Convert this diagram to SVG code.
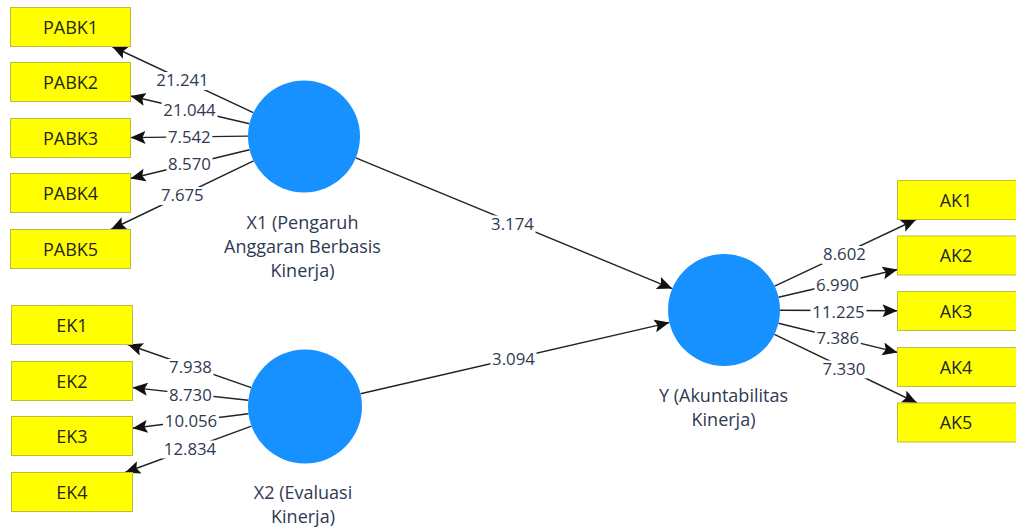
<svg xmlns="http://www.w3.org/2000/svg" width="1016" height="530" viewBox="0 0 1016 530">
<style>
.box{fill:#ffff00;stroke:#bdbd3a;stroke-width:1}
.bt{font-family:"Open Sans","DejaVu Sans",sans-serif;font-size:18px;fill:#262626;text-anchor:middle}
.lv{fill:#1791ff}
.lt{font-family:"Open Sans","DejaVu Sans",sans-serif;font-size:18px;fill:#2e3a52;text-anchor:middle}
.c line{stroke:#222;stroke-width:1.4;marker-end:url(#ah)}
.bg{fill:#fff}
.el{font-family:"Open Sans","DejaVu Sans",sans-serif;font-size:16.8px;fill:#2e3a52;text-anchor:middle}
</style>
<defs>
<marker id="ah" markerUnits="userSpaceOnUse" markerWidth="16" markerHeight="14" refX="15" refY="6.5" orient="auto">
<path d="M0,0 L15,6.5 L0,13 L3,6.5 z" fill="#111"/>
</marker>
</defs>
<rect width="1016" height="530" fill="#fff"/>

<g class="c" id="connectors">
<line x1="253.3" y1="112.7" x2="112.1" y2="46.5"/>
<line x1="249.5" y1="123.8" x2="130.5" y2="96.0"/>
<line x1="248" y1="136.1" x2="130.5" y2="137.6"/>
<line x1="249.6" y1="149.7" x2="130.5" y2="178.5"/>
<line x1="253.6" y1="160.8" x2="110.9" y2="229.5"/>
<line x1="251.2" y1="387.7" x2="127.7" y2="344.5"/>
<line x1="248.3" y1="400.3" x2="132.5" y2="387.6"/>
<line x1="248.5" y1="413.7" x2="132.5" y2="428.3"/>
<line x1="251.5" y1="426.1" x2="125.1" y2="472.5"/>
<line x1="774.7" y1="286.1" x2="916.1" y2="219.5"/>
<line x1="778.5" y1="297.3" x2="897.5" y2="269.5"/>
<line x1="780" y1="310.2" x2="897.5" y2="310.7"/>
<line x1="778.4" y1="323.3" x2="897.5" y2="352.4"/>
<line x1="774.4" y1="334.3" x2="917.1" y2="403"/>
<line x1="355.8" y1="157.9" x2="672.2" y2="288.6"/>
<line x1="360.5" y1="393.7" x2="669.4" y2="322.6"/>
</g>

<g id="edge-labels">
<rect class="bg" x="154.5" y="72" width="56" height="18"/><text class="el" x="182.5" y="86">21.241</text>
<rect class="bg" x="161.5" y="102" width="56" height="18"/><text class="el" x="189.5" y="116">21.044</text>
<rect class="bg" x="166.3" y="129" width="46" height="18"/><text class="el" x="189.3" y="143">7.542</text>
<rect class="bg" x="166.5" y="155.5" width="46" height="18"/><text class="el" x="189.5" y="169.5">8.570</text>
<rect class="bg" x="159.3" y="187" width="46" height="18"/><text class="el" x="182.3" y="201">7.675</text>
<rect class="bg" x="167.5" y="359" width="46" height="18"/><text class="el" x="190.5" y="373">7.938</text>
<rect class="bg" x="167.4" y="386.5" width="46" height="18"/><text class="el" x="190.4" y="400.5">8.730</text>
<rect class="bg" x="163" y="413" width="56" height="18"/><text class="el" x="191" y="427">10.056</text>
<rect class="bg" x="162" y="440.5" width="56" height="18"/><text class="el" x="190" y="454.5">12.834</text>
<rect class="bg" x="821.5" y="246" width="46" height="18"/><text class="el" x="844.5" y="260">8.602</text>
<rect class="bg" x="814.5" y="277" width="46" height="18"/><text class="el" x="837.5" y="291">6.990</text>
<rect class="bg" x="810.5" y="303.5" width="56" height="18"/><text class="el" x="838.5" y="317.5">11.225</text>
<rect class="bg" x="814.8" y="330" width="46" height="18"/><text class="el" x="837.8" y="344">7.386</text>
<rect class="bg" x="821" y="360.5" width="46" height="18"/><text class="el" x="844" y="374.5">7.330</text>
<rect class="bg" x="489.5" y="215.5" width="46" height="18"/><text class="el" x="512.5" y="229.5">3.174</text>
<rect class="bg" x="490.5" y="350.5" width="46" height="18"/><text class="el" x="513.5" y="364.5">3.094</text>
</g>

<g id="X1"><circle class="lv" cx="304" cy="136.5" r="56"/>
<text class="lt" x="302.5" y="228.5">X1 (Pengaruh</text>
<text class="lt" x="302.5" y="252.5">Anggaran Berbasis</text>
<text class="lt" x="302.5" y="276.5">Kinerja)</text></g>

<g id="X2"><circle class="lv" cx="305" cy="406.5" r="57"/>
<text class="lt" x="303" y="498.5">X2 (Evaluasi</text>
<text class="lt" x="303" y="522.5">Kinerja)</text></g>

<g id="Y"><circle class="lv" cx="724" cy="310" r="56"/>
<text class="lt" x="723.5" y="402">Y (Akuntabilitas</text>
<text class="lt" x="723.5" y="426">Kinerja)</text></g>

<g id="PABK1"><rect class="box" x="10.5" y="7.5" width="120" height="39"/><text class="bt" x="70.5" y="33.5">PABK1</text></g>
<g id="PABK2"><rect class="box" x="10.5" y="62.5" width="120" height="39"/><text class="bt" x="70.5" y="88.5">PABK2</text></g>
<g id="PABK3"><rect class="box" x="10.5" y="118.5" width="120" height="39"/><text class="bt" x="70.5" y="144.5">PABK3</text></g>
<g id="PABK4"><rect class="box" x="10.5" y="173.5" width="120" height="39"/><text class="bt" x="70.5" y="199.5">PABK4</text></g>
<g id="PABK5"><rect class="box" x="10.5" y="229.5" width="120" height="39"/><text class="bt" x="70.5" y="255.5">PABK5</text></g>

<g id="EK1"><rect class="box" x="11.5" y="305.5" width="121" height="39"/><text class="bt" x="72" y="331.5">EK1</text></g>
<g id="EK2"><rect class="box" x="11.5" y="361.5" width="121" height="39"/><text class="bt" x="72" y="387.5">EK2</text></g>
<g id="EK3"><rect class="box" x="11.5" y="416.5" width="121" height="39"/><text class="bt" x="72" y="442.5">EK3</text></g>
<g id="EK4"><rect class="box" x="11.5" y="472.5" width="121" height="39"/><text class="bt" x="72" y="498.5">EK4</text></g>

<g id="AK1"><rect class="box" x="897.5" y="180.5" width="120" height="39"/><text class="bt" x="956" y="206.5">AK1</text></g>
<g id="AK2"><rect class="box" x="897.5" y="236" width="120" height="39"/><text class="bt" x="956" y="262">AK2</text></g>
<g id="AK3"><rect class="box" x="897.5" y="291.5" width="120" height="39"/><text class="bt" x="956" y="317.5">AK3</text></g>
<g id="AK4"><rect class="box" x="897.5" y="347.5" width="120" height="39"/><text class="bt" x="956" y="373.5">AK4</text></g>
<g id="AK5"><rect class="box" x="897.5" y="403" width="120" height="39"/><text class="bt" x="956" y="429">AK5</text></g>
</svg>
